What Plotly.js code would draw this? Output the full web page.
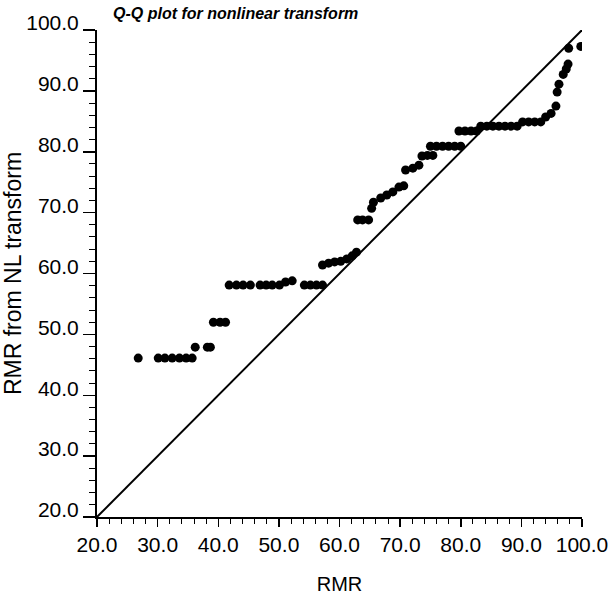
<!DOCTYPE html>
<html>
<head>
<meta charset="utf-8">
<script src="https://cdn.plot.ly/plotly-3.0.1.min.js"></script>
<style>html,body{margin:0;padding:0;background:#fff;}#chart{width:609px;height:595px;}</style>
</head>
<body>
<div id="chart"></div>
<script>
// Observed RMR values (x) and RMR from nonlinear transform (y)
var rmr = [
  26.8, 30.1, 31.2, 32.4, 33.6, 34.7, 35.7, 36.2, 38.2, 38.7, 39.2, 40.3, 41.2,
  41.8, 43.0, 44.1, 45.3, 46.9, 47.9, 48.9, 50.1, 51.1, 52.2, 54.2, 55.2, 56.2, 57.2,
  57.2, 58.2, 59.2, 60.2, 61.2, 62.1, 62.8,
  63.0, 63.8, 64.8,
  65.3, 65.6, 66.8, 67.8, 68.8, 69.8, 70.6,
  70.9, 72.1, 73.1, 73.6, 74.5, 75.4,
  75.0, 76.0, 77.0, 78.0, 79.0, 80.0,
  79.7, 80.7, 81.7, 82.6,
  83.3, 84.3, 85.3, 86.3, 87.3, 88.3, 89.3,
  90.2, 91.2, 92.2, 93.2,
  94.0, 94.9, 95.7, 95.9, 96.2, 96.9, 97.4, 97.7, 97.8, 99.8
];
var rmrNL = [
  46.1, 46.1, 46.1, 46.1, 46.1, 46.1, 46.1, 47.9, 47.9, 47.9, 52.0, 52.0, 52.0,
  58.1, 58.1, 58.1, 58.1, 58.1, 58.1, 58.1, 58.1, 58.6, 58.8, 58.1, 58.1, 58.1, 58.1,
  61.4, 61.7, 61.9, 62.0, 62.4, 62.9, 63.5,
  68.8, 68.8, 68.8,
  70.7, 71.7, 72.4, 72.9, 73.4, 74.2, 74.4,
  77.0, 77.3, 77.8, 79.3, 79.4, 79.4,
  80.9, 80.9, 80.9, 80.9, 80.9, 80.9,
  83.4, 83.4, 83.4, 83.4,
  84.2, 84.2, 84.2, 84.2, 84.2, 84.2, 84.2,
  84.9, 84.9, 84.9, 84.9,
  85.7, 86.3, 87.5, 89.8, 91.1, 92.7, 93.6, 94.4, 97.0, 97.3
];
// Reference line y = x
var refLine = [20, 100];
var tickVals = [20, 30, 40, 50, 60, 70, 80, 90, 100];

var fontFam = 'Liberation Sans, Arial, sans-serif';

var traces = [
  {x: refLine, y: refLine, type: 'scatter', mode: 'lines',
   line: {color: '#000', width: 2}, hoverinfo: 'skip', showlegend: false},
  {x: rmr, y: rmrNL, type: 'scatter', mode: 'markers',
   marker: {color: '#000', size: 9}, showlegend: false}
];

var axisCommon = {
  range: [20, 100], tickvals: tickVals, tickformat: '.1f',
  showgrid: false, zeroline: false,
  showline: true, linecolor: '#000', linewidth: 2,
  ticks: 'outside', ticklen: 8, tickwidth: 1.5, tickcolor: '#000',
  tickfont: {family: fontFam, size: 21, color: '#000'},
  minor: {dtick: 2, ticks: 'outside', ticklen: 5, tickwidth: 1, tickcolor: '#000', showgrid: false},
  fixedrange: true
};

var layout = {
  width: 609, height: 595,
  margin: {l: 97, r: 27, t: 30, b: 78},
  paper_bgcolor: '#fff', plot_bgcolor: '#fff',
  showlegend: false,
  title: {text: 'Q-Q plot for nonlinear transform', xref: 'container', yref: 'container',
          x: 113/609, xanchor: 'left', y: 1 - 13/595, yanchor: 'middle',
          font: {family: fontFam, size: 16, weight: 'bold', style: 'italic', color: '#000'}},
  xaxis: Object.assign({}, axisCommon, {
    title: {text: 'RMR', font: {family: fontFam, size: 20, color: '#000'}, standoff: 22}
  }),
  yaxis: Object.assign({}, axisCommon, {
    ticklen: 12,
    minor: {dtick: 2, ticks: 'outside', ticklen: 6, tickwidth: 1, tickcolor: '#000', showgrid: false},
    ticklabelshift: -7,
    title: {text: 'RMR from NL transform', font: {family: fontFam, size: 23, color: '#000'}, standoff: 6}
  })
};

Plotly.newPlot('chart', traces, layout, {displayModeBar: false, staticPlot: true});
</script>
</body>
</html>
